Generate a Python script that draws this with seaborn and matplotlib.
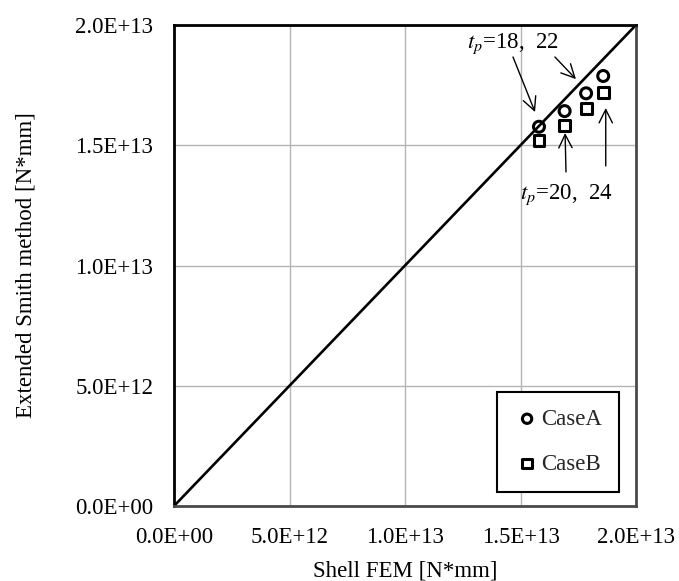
import matplotlib
matplotlib.use("Agg")
import matplotlib.pyplot as plt
import pandas as pd
import seaborn as sns

# Bending moment capacity: shell FEM vs. extended Smith method
shell_fem = [1.580e13, 1.691e13, 1.784e13, 1.858e13]
smith_case_a = [1.577e13, 1.642e13, 1.716e13, 1.788e13]
smith_case_b = [1.518e13, 1.583e13, 1.654e13, 1.719e13]
case_names = ["CaseA", "CaseB"]
plate_thickness_upper = "18,  22"
plate_thickness_lower = "20,  24"
tick_values = [0.0, 5.0e12, 1.0e13, 1.5e13, 2.0e13]
tick_labels = ["0.0E+00", "5.0E+12", "1.0E+13", "1.5E+13", "2.0E+13"]
diagonal = [0.0, 2.0e13]

df = pd.DataFrame({
    "fem": shell_fem * 2,
    "smith": smith_case_a + smith_case_b,
    "case": [case_names[0]] * 4 + [case_names[1]] * 4,
})

sns.set_theme(style="whitegrid")
plt.rcParams["font.family"] = ["Liberation Serif", "DejaVu Serif"]
plt.rcParams["mathtext.fontset"] = "stix"
FS = 16.5

fig = plt.figure(figsize=(6.79, 5.81), dpi=100)
ax = fig.add_axes([174 / 679, 75 / 581, 462 / 679, 481 / 581])

# 1:1 reference line
sns.lineplot(x=diagonal, y=diagonal, ax=ax, color="black", linewidth=1.9,
             legend=False)

markers = {"CaseA": "o", "CaseB": "s"}
for name in case_names:
    sub = df[df["case"] == name]
    sns.scatterplot(data=sub, x="fem", y="smith", ax=ax, marker=markers[name],
                    s=62, facecolor="none", edgecolor="black",
                    linewidth=2.2, label=name, zorder=5)

ax.set_xlim(0, 2.0e13)
ax.set_ylim(0, 2.0e13)
ax.set_xticks(tick_values)
ax.set_yticks(tick_values)
ax.set_xticklabels(tick_labels, fontsize=FS)
ax.set_yticklabels(tick_labels, fontsize=FS)
ax.tick_params(axis="both", length=0, pad=15, colors="black")
ax.grid(True, color="#b4b4b4", linewidth=1.0)
ax.set_facecolor("white")

for side in ["left", "top"]:
    ax.spines[side].set_color("black")
    ax.spines[side].set_linewidth(2.0)
for side in ["right", "bottom"]:
    ax.spines[side].set_color("#4a4a4a")
    ax.spines[side].set_linewidth(2.0)

ax.set_xlabel("Shell FEM [N*mm]", fontsize=FS, color="black", labelpad=9)
ax.set_ylabel("Extended Smith method [N*mm]", fontsize=FS, color="black",
              labelpad=28)

# Plate thickness annotations
arrow_style = dict(arrowstyle="->", color="black", linewidth=1.0,
                   mutation_scale=24, shrinkA=0, shrinkB=0)
ax.text(1.268e13, 1.904e13, r"$t_p$=" + plate_thickness_upper, fontsize=FS,
        ha="left", va="baseline", color="black")
ax.annotate("", xy=(1.563e13, 1.638e13), xytext=(1.4675e13, 1.867e13),
            arrowprops=arrow_style)
ax.annotate("", xy=(1.740e13, 1.775e13), xytext=(1.649e13, 1.867e13),
            arrowprops=arrow_style)

ax.text(1.498e13, 1.276e13, r"$t_p$=" + plate_thickness_lower, fontsize=FS,
        ha="left", va="baseline", color="black")
ax.annotate("", xy=(1.693e13, 1.551e13), xytext=(1.697e13, 1.389e13),
            arrowprops=arrow_style)
ax.annotate("", xy=(1.869e13, 1.655e13), xytext=(1.869e13, 1.414e13),
            arrowprops=arrow_style)

leg = ax.legend(loc="lower right", bbox_to_anchor=(0.963, 0.029),
                borderaxespad=0, fontsize=FS, frameon=True, fancybox=False,
                labelspacing=1.05, handletextpad=0.05, handlelength=1.1,
                borderpad=0.75, markerscale=0.85)
leg.get_frame().set_edgecolor("black")
leg.get_frame().set_linewidth(1.5)
leg.get_frame().set_alpha(1.0)

fig.savefig("out.png", dpi=100)
